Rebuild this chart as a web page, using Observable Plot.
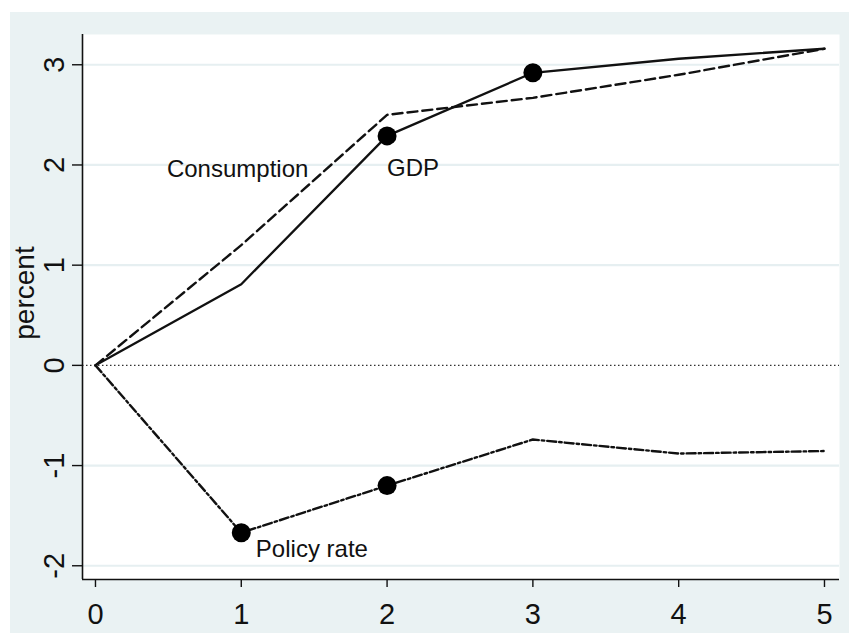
<!DOCTYPE html>
<html>
<head>
<meta charset="utf-8">
<script src="https://cdn.jsdelivr.net/npm/d3@7"></script>
<script src="https://cdn.jsdelivr.net/npm/@observablehq/plot@0.6"></script>
<style>
  html, body { margin: 0; padding: 0; background: #ffffff; }
  #chart { position: absolute; left: 10px; top: 12px; width: 839px; height: 621px; background: #eaf2f3; }
  #chart svg { display: block; overflow: visible; }
</style>
</head>
<body>
<div id="chart"></div>
<script>
// ---- data ----
const years = [0, 1, 2, 3, 4, 5];
const gdp = [0, 0.81, 2.29, 2.92, 3.06, 3.16];
const consumption = [0, 1.20, 2.50, 2.67, 2.90, 3.16];
const policyRate = [0, -1.67, -1.20, -0.74, -0.88, -0.855];
const gdpMarkerYears = [2, 3];
const policyMarkerYears = [1, 2];
const xTicks = [0, 1, 2, 3, 4, 5];
const yTicks = [-2, -1, 0, 1, 2, 3];
const gridTicks = [-2, -1, 1, 2, 3];
const labelNames = ["Consumption", "GDP", "Policy rate"];
const labelX = [0.49, 2, 1.1];
const labelY = [1.88, 1.885, -1.91];
const yTitle = "percent";
const xDomain = [-0.089, 5.103];
const yDomain = [-2.137, 3.302];

const rows = (vals) => years.map((t, i) => ({t, v: vals[i]}));
const gdpRows = rows(gdp);
const consRows = rows(consumption);
const polRows = rows(policyRate);
const markers = [
  ...gdpMarkerYears.map(t => ({t, v: gdp[years.indexOf(t)]})),
  ...policyMarkerYears.map(t => ({t, v: policyRate[years.indexOf(t)]}))
];
const labels = labelNames.map((name, i) => ({name, x: labelX[i], y: labelY[i]}));

const font = "'Liberation Sans', Arial, Helvetica, sans-serif";
const ink = "#111";

const chart = Plot.plot({
  width: 839,
  height: 621,
  marginLeft: 72,
  marginRight: 10,
  marginTop: 22,
  marginBottom: 54,
  style: {background: "transparent", fontFamily: font, color: ink},
  x: {domain: xDomain, axis: null},
  y: {domain: yDomain, axis: null},
  marks: [
    Plot.frame({fill: "white", stroke: null}),
    Plot.gridY(gridTicks, {stroke: "#e6eff1", strokeOpacity: 1, strokeWidth: 2.2}),
    Plot.ruleY([0], {stroke: "#333", strokeWidth: 1.2, strokeDasharray: "1.5,2.5"}),
    // axis lines
    Plot.ruleX([xDomain[0]], {stroke: ink, strokeWidth: 1.6}),
    Plot.ruleY([yDomain[0]], {stroke: ink, strokeWidth: 1.6}),
    // ticks
    Plot.axisY({ticks: yTicks, tickSize: 10, tickFormat: () => "", stroke: ink, strokeWidth: 1.4}),
    Plot.axisX({ticks: xTicks, tickSize: 8, tickFormat: () => "", stroke: ink, strokeWidth: 1.4}),
    // tick labels
    Plot.text(yTicks, {y: d => d, text: d => String(d), frameAnchor: "left", rotate: -90,
      textAnchor: "middle", lineAnchor: "bottom", dx: -19, fontSize: 29, fill: ink}),
    Plot.text(xTicks, {x: d => d, text: d => String(d), frameAnchor: "bottom",
      textAnchor: "middle", lineAnchor: "bottom", dy: 44, fontSize: 29, fill: ink}),
    Plot.text([yTitle], {text: d => d, frameAnchor: "left", rotate: -90,
      textAnchor: "middle", lineAnchor: "bottom", dx: -49, dy: -14, fontSize: 28, fill: ink}),
    // series
    Plot.line(consRows, {x: "t", y: "v", stroke: ink, strokeWidth: 2.4, strokeDasharray: "10,5"}),
    Plot.line(gdpRows, {x: "t", y: "v", stroke: ink, strokeWidth: 2.3}),
    Plot.line(polRows, {x: "t", y: "v", stroke: ink, strokeWidth: 2.4, strokeDasharray: "9,3,2.5,3"}),
    Plot.dot(markers, {x: "t", y: "v", r: 9.5, fill: "#000", stroke: null}),
    // series labels
    Plot.text(labels, {x: "x", y: "y", text: "name", textAnchor: "start", lineAnchor: "bottom",
      fontSize: 24, fill: ink})
  ]
});
document.getElementById("chart").appendChild(chart);
</script>
</body>
</html>
